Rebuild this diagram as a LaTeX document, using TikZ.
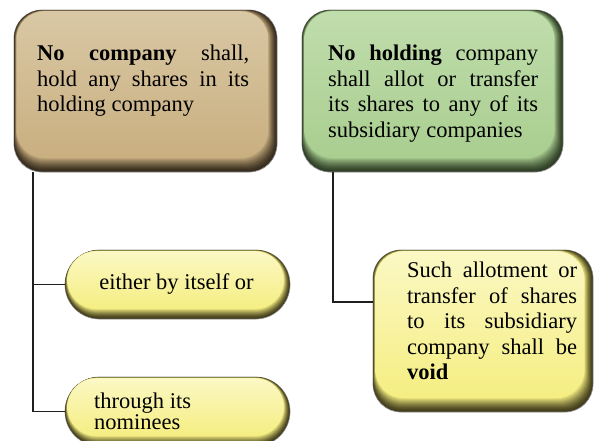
\documentclass[tikz,border=0pt]{standalone}
\usepackage{fontspec}
\setmainfont{Liberation Serif}
\usetikzlibrary{fit}

\definecolor{tanmain}{HTML}{C9AF80}
\definecolor{tandark}{HTML}{352B1C}
\definecolor{tanlight}{HTML}{D9C8A5}
\definecolor{greenmain}{HTML}{A9CE90}
\definecolor{greendark}{HTML}{2E3D25}
\definecolor{greenlight}{HTML}{C0DDAC}
\definecolor{yelmain}{HTML}{F5EE82}
\definecolor{yeldark}{HTML}{403B1A}
\definecolor{yellight}{HTML}{FBF8C4}
\definecolor{edgegray}{HTML}{8A8A8A}
\definecolor{inkline}{HTML}{1E1E1E}

\tikzset{
  connector/.style={draw=inkline, line width=1.1pt},
  boxtext/.style={inner sep=0pt, align=justify, anchor=north west,
                  font=\fontsize{22.5}{25.5}\selectfont},
  pilltext/.style={inner sep=0pt, font=\fontsize{22.5}{21}\selectfont},
}

% Bevelled box: #1 name, (#2,#3)-(#4,#5) corners, #6 corner radius,
% #7 colour prefix, #8 depth of the bottom shadow band
\newcommand{\bevelbox}[8]{%
  \fill[#7dark, draw=edgegray, line width=0.7pt, rounded corners=#6pt]
    (#2,#3) rectangle (#4,#5);
  \foreach \k in {1,...,14}{%
    \pgfmathsetmacro{\tt}{\k/14}%
    \pgfmathsetmacro{\il}{2.5*\tt}%
    \pgfmathsetmacro{\it}{1.2*\tt}%
    \pgfmathsetmacro{\ir}{0.62*#8*\tt}%
    \pgfmathsetmacro{\ib}{#8*\tt}%
    \pgfmathsetmacro{\pc}{100*(\tt^1.4)}%
    \pgfmathsetmacro{\rr}{min(#6,(#5-#3-\it-\ib)/2-0.02)}%
    \colorlet{layercol}{#7main!\pc!#7dark}%
    \fill[layercol, rounded corners=\rr pt]
      ({#2+\il},{#3+\it}) rectangle ({#4-\ir},{#5-\ib});
  }%
  \pgfmathsetmacro{\rr}{min(#6,(#5-#3-1.2-#8)/2-0.02)}%
  \shade[top color=#7light, middle color=#7main, bottom color=#7main,
         rounded corners=\rr pt]
    ({#2+2.5},{#3+1.2}) rectangle ({#4-0.62*#8},{#5-#8});
  \node[fit={(#2,#3) (#4,#5)}, inner sep=0pt] (#1) {};
}

\begin{document}
\begin{tikzpicture}[x=1pt, y=-1pt]
\useasboundingbox (0,0) rectangle (594,440);

% junction points of the connectors
\coordinate (lefttrunk) at (33,172);
\coordinate (righttrunk) at (333,172);
\coordinate (voidjoin) at (373,302);

% boxes
\bevelbox{hold}{14}{10}{277}{172}{28}{tan}{14}
\bevelbox{allot}{302}{10}{563}{172}{28}{green}{14}
\bevelbox{itself}{65}{250}{290}{319}{34.5}{yel}{10}
\bevelbox{nominees}{65}{377}{290}{446}{34.5}{yel}{10}
\bevelbox{void}{373}{250}{593}{412}{28}{yel}{14}

\draw[connector] (lefttrunk) |- (itself.west);
\draw[connector] (lefttrunk) |- (nominees.west);
\draw[connector] (righttrunk) |- (voidjoin);

% texts
\node[boxtext, text width=212pt] (holdtext) at (37,45)
  {\textbf{No company} shall,\linebreak hold any shares in its\linebreak holding company};
\node[boxtext, text width=210pt] (allottext) at (328,45)
  {\textbf{No holding} company\linebreak shall allot or transfer\linebreak its shares to any of its\linebreak subsidiary companies};
\node[pilltext, anchor=base] (itselftext) at (176.5,289) {either by itself or};
\node[pilltext, anchor=north west, align=left] (nomineestext) at (94,393)
  {through its\\ nominees};
\node[boxtext, text width=170pt] (voidtext) at (407,262)
  {Such allotment or\linebreak transfer of shares\linebreak to its subsidiary\linebreak company shall be\linebreak \textbf{void}};
\end{tikzpicture}
\end{document}
